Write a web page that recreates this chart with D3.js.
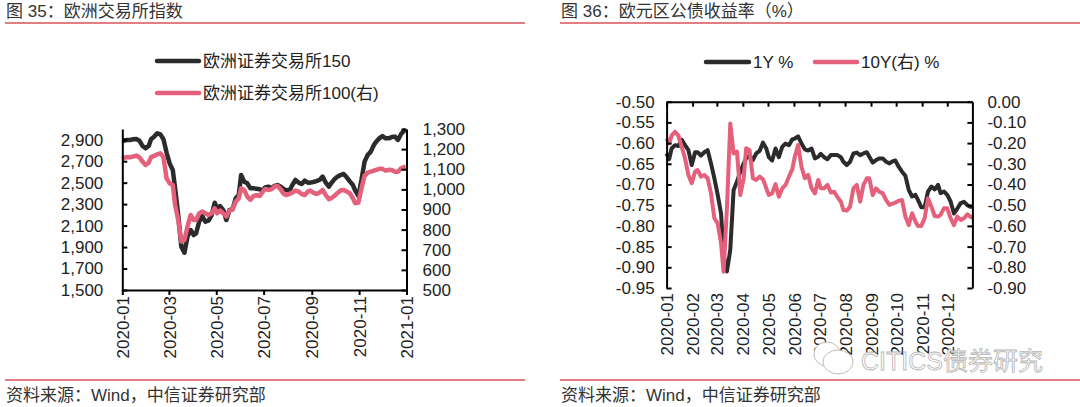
<!DOCTYPE html>
<html>
<head>
<meta charset="utf-8">
<script src="https://cdn.jsdelivr.net/npm/d3@7"></script>
<style>
  html, body { margin: 0; padding: 0; background: #fff; }
  svg { display: block; }
</style>
</head>
<body>
<svg id="chart" width="1080" height="407"></svg>
<script>
// days since 2020-01-01 of each reading
const obsDays = [0,3,6,10,14,18,22,26,30,34,37,41,45,49,53,57,61,65,68,72,
  76,80,84,88,92,95,99,103,107,111,115,119,122,126,130,134,138,142,146,150,
  153,157,161,165,169,173,177,181,184,188,192,196,200,204,208,211,215,219,223,227,
  231,235,239,242,246,250,254,258,262,266,269,273,277,281,285,289,293,297,300,304,
  308,312,316,320,324,327,331,335,339,343,347,351,355,359,363,365];
const stoxx150 = [2898,2891,2898,2898,2904,2907,2891,2842,2820,2842,2904,2929,2960,2950,2904,2780,2680,2618,2447,
  2198,1903,1847,1997,2059,2012,2028,2136,2189,2136,2146,2198,2313,2261,2282,2245,2152,2245,2251,2354,
  2385,2571,2509,2494,2447,2447,2444,2438,2425,2456,2463,2450,2469,2478,2463,2438,2432,2422,2478,2525,
  2500,2487,2519,2500,2500,2506,2515,2525,2556,2500,2463,2494,2531,2556,2571,2581,2550,2512,2478,2425,
  2376,2525,2696,2758,2789,2851,2882,2913,2935,2913,2913,2925,2929,2898,2954,2985,2991];
const stoxx100 = [1150,1158,1160,1160,1163,1168,1160,1138,1121,1133,1160,1166,1174,1179,1160,1055,1030,1022,923,
  848,741,749,815,873,848,848,881,890,881,873,881,906,881,895,881,865,895,901,939,
  956,1005,997,964,948,967,971,967,989,1002,997,1000,1014,1017,1000,977,972,977,984,994,
  989,977,972,989,994,984,977,984,997,972,951,956,967,981,994,997,989,981,956,931,
  934,1005,1067,1083,1088,1093,1097,1102,1102,1093,1097,1096,1088,1088,1105,1111,1113];
const yield1y = [-0.625,-0.639,-0.613,-0.605,-0.607,-0.592,-0.605,-0.617,-0.653,-0.622,-0.622,-0.630,-0.622,-0.617,-0.649,-0.685,-0.725,-0.770,-0.870,
  -0.910,-0.858,-0.713,-0.693,-0.669,-0.649,-0.637,-0.630,-0.641,-0.625,-0.619,-0.599,-0.613,-0.634,-0.642,-0.613,-0.634,-0.609,-0.601,-0.605,
  -0.591,-0.589,-0.584,-0.601,-0.615,-0.618,-0.613,-0.637,-0.633,-0.626,-0.634,-0.639,-0.629,-0.629,-0.629,-0.634,-0.645,-0.653,-0.645,-0.625,
  -0.623,-0.629,-0.625,-0.622,-0.633,-0.647,-0.641,-0.637,-0.637,-0.645,-0.649,-0.645,-0.642,-0.657,-0.669,-0.679,-0.713,-0.729,-0.725,-0.737,
  -0.755,-0.755,-0.717,-0.705,-0.712,-0.701,-0.721,-0.717,-0.725,-0.741,-0.770,-0.758,-0.745,-0.742,-0.750,-0.754,-0.754];
const yield10y = [-0.177,-0.201,-0.164,-0.145,-0.164,-0.217,-0.274,-0.354,-0.394,-0.338,-0.330,-0.362,-0.354,-0.370,-0.443,-0.563,-0.588,-0.684,-0.821,
  -0.515,-0.105,-0.250,-0.241,-0.451,-0.370,-0.225,-0.233,-0.370,-0.378,-0.362,-0.375,-0.418,-0.451,-0.443,-0.398,-0.459,-0.419,-0.402,-0.362,
  -0.327,-0.266,-0.209,-0.314,-0.370,-0.354,-0.418,-0.443,-0.378,-0.418,-0.418,-0.402,-0.439,-0.435,-0.462,-0.483,-0.523,-0.526,-0.507,-0.419,
  -0.402,-0.483,-0.402,-0.370,-0.370,-0.451,-0.419,-0.435,-0.443,-0.475,-0.499,-0.494,-0.488,-0.478,-0.475,-0.555,-0.596,-0.539,-0.579,-0.600,
  -0.600,-0.563,-0.467,-0.507,-0.552,-0.555,-0.547,-0.515,-0.515,-0.563,-0.596,-0.555,-0.571,-0.563,-0.544,-0.556,-0.563];

const leftTicks35 = [1500,1700,1900,2100,2300,2500,2700,2900];
const rightTicks35 = [500,600,700,800,900,1000,1100,1200,1300];
const leftTicks36 = [-0.50,-0.55,-0.60,-0.65,-0.70,-0.75,-0.80,-0.85,-0.90,-0.95];
const rightTicks36 = [0,-0.10,-0.20,-0.30,-0.40,-0.50,-0.60,-0.70,-0.80,-0.90];
const months35 = ["2020-01","2020-03","2020-05","2020-07","2020-09","2020-11","2021-01"];
const months36 = ["2020-01","2020-02","2020-03","2020-04","2020-05","2020-06","2020-07","2020-08","2020-09","2020-10","2020-11","2020-12"];

const BLACK = "#2b2b2b";
const PINK = "#e5607a";
const RULE = "#e27d82";
const LATIN = "'Liberation Sans', Arial, sans-serif";
const CJK = "'Liberation Sans', 'Noto Sans CJK SC', sans-serif";

const parseMonth = d3.timeParse("%Y-%m");
const dates = obsDays.map(d => d3.timeDay.offset(new Date(2020, 0, 1), d));
// plain hyphen on the negative labels, as in the picture
const formatYield = d3.formatLocale({ decimal: ".", thousands: ",", grouping: [3], currency: ["", ""], minus: "-" }).format(".2f");

const svg = d3.select("#chart");

function addText(x, y, str, size, color) {
  return svg.append("text")
    .attr("x", x)
    .attr("y", y)
    .attr("font-family", CJK)
    .attr("font-size", size)
    .attr("fill", color)
    .text(str);
}

function styleAxis(g) {
  g.selectAll("path, line").attr("stroke", "#000").attr("stroke-width", 2);
  g.selectAll("text").attr("font-family", LATIN).attr("font-size", 17).attr("fill", "#222");
}

function addLine(x, y, values, color, width) {
  const line = d3.line()
    .x((d, i) => x(dates[i]))
    .y(d => y(d))
    .curve(d3.curveLinear);
  svg.append("path")
    .attr("d", line(values))
    .attr("fill", "none")
    .attr("stroke", color)
    .attr("stroke-width", width)
    .attr("stroke-linejoin", "round");
}

function addLegend(x1, x2, y, label, color, textX) {
  svg.append("line")
    .attr("x1", x1).attr("x2", x2).attr("y1", y).attr("y2", y)
    .attr("stroke", color).attr("stroke-width", 4.5).attr("stroke-linecap", "round");
  addText(textX, y + 6, label, 17, "#222");
}

// headers and footers
[[5, 525], [560, 1080]].forEach(r => {
  [23, 380].forEach(y => {
    svg.append("line")
      .attr("x1", r[0]).attr("x2", r[1]).attr("y1", y).attr("y2", y)
      .attr("stroke", RULE).attr("stroke-width", 2);
  });
});
addText(6, 17, "图 35：欧洲交易所指数", 17, "#333");
addText(561, 17, "图 36：欧元区公债收益率（%）", 17, "#333");
addText(6, 401, "资料来源：Wind，中信证券研究部", 17, "#333");
addText(561, 401, "资料来源：Wind，中信证券研究部", 17, "#333");

// chart 35
const x35 = d3.scaleTime().domain([new Date(2020, 0, 1), new Date(2021, 0, 1)]).range([122.3, 406.5]);
const yl35 = d3.scaleLinear().domain([1500, 3000]).range([290, 129]);
const yr35 = d3.scaleLinear().domain([500, 1300]).range([290, 129]);

addLine(x35, yl35, stoxx150, BLACK, 4.5);
addLine(x35, yr35, stoxx100, PINK, 4.5);

svg.append("g").attr("transform", "translate(122.3,0)")
  .call(d3.axisLeft(yl35).tickValues(leftTicks35).tickSize(-5).tickSizeOuter(0).tickPadding(19).tickFormat(d3.format(",")))
  .call(styleAxis);
svg.append("g").attr("transform", "translate(406.5,0)")
  .call(d3.axisRight(yr35).tickValues(rightTicks35).tickSize(-5).tickSizeOuter(0).tickPadding(16).tickFormat(d3.format(",")))
  .call(styleAxis);
const xa35 = svg.append("g").attr("transform", "translate(0,290)")
  .call(d3.axisBottom(x35).tickValues(months35.map(parseMonth)).tickSize(5).tickSizeOuter(0).tickFormat(d3.timeFormat("%Y-%m")))
  .call(styleAxis);
xa35.selectAll("text")
  .attr("transform", "rotate(-90)")
  .attr("text-anchor", "end")
  .attr("x", -6).attr("y", 0).attr("dy", "0.36em");

addLegend(157, 199, 61, "欧洲证券交易所150", BLACK, 203);
addLegend(157, 199, 93, "欧洲证券交易所100(右)", PINK, 203);

// chart 36
const x36 = d3.scaleTime().domain([new Date(2020, 0, 1), new Date(2020, 11, 31)]).range([666.6, 972.4]);
const yl36 = d3.scaleLinear().domain([-0.95, -0.50]).range([288, 101.7]);
const yr36 = d3.scaleLinear().domain([-0.90, 0]).range([288, 101.7]);

addLine(x36, yl36, yield1y, BLACK, 4);
addLine(x36, yr36, yield10y, PINK, 4);

svg.append("g").attr("transform", "translate(666.6,0)")
  .call(d3.axisLeft(yl36).tickValues(leftTicks36).tickSize(-5).tickSizeOuter(0).tickPadding(12).tickFormat(formatYield))
  .call(styleAxis);
svg.append("g").attr("transform", "translate(972.4,0)")
  .call(d3.axisRight(yr36).tickValues(rightTicks36).tickSize(-5).tickSizeOuter(0).tickPadding(15).tickFormat(formatYield))
  .call(styleAxis);
// the month ticks hang from the top line, the labels stay at the bottom
svg.append("g").attr("transform", "translate(0,101.7)")
  .call(d3.axisTop(x36).tickValues(months36.map(parseMonth)).tickSize(-5).tickSizeOuter(0).tickFormat(""))
  .call(styleAxis);
const xa36 = svg.append("g").attr("transform", "translate(0,288)")
  .call(d3.axisBottom(x36).tickValues(months36.map(parseMonth)).tickSize(0).tickFormat(d3.timeFormat("%Y-%m")))
  .call(styleAxis);
xa36.select(".domain").remove();
xa36.selectAll("text")
  .attr("transform", "rotate(-90)")
  .attr("text-anchor", "end")
  .attr("x", -5).attr("y", 0).attr("dy", "0.36em");

addLegend(706, 749, 62, "1Y %", BLACK, 753);
addLegend(815, 857, 62, "10Y(右) %", PINK, 861);

// watermark
const mark = svg.append("g").attr("fill", "#fff").attr("stroke", "#bdbdbd").attr("stroke-width", 1);
mark.append("ellipse").attr("cx", 827).attr("cy", 354).attr("rx", 13).attr("ry", 12);
mark.append("ellipse").attr("cx", 838).attr("cy", 362).attr("rx", 15).attr("ry", 12);
addText(861, 370, "CITICS债券研究", 25, "#fff")
  .attr("stroke", "#b5b5b5").attr("stroke-width", 0.8);
</script>
</body>
</html>
